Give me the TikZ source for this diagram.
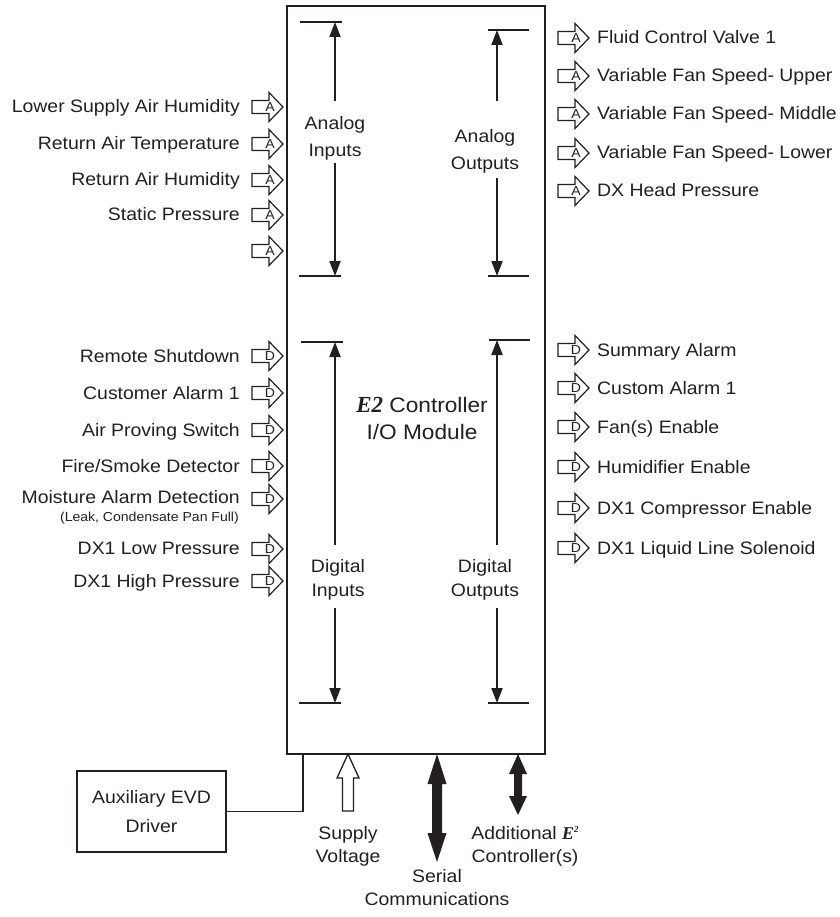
\documentclass[tikz,border=0pt]{standalone}
\usepackage{fontspec}
\setmainfont{Liberation Sans}[FakeStretch=1.08]
\newfontfamily\eserif{Liberation Serif}
\usetikzlibrary{arrows.meta}
\definecolor{ink}{HTML}{231F20}
\newcommand\lblfont{\fontsize{18}{22}\selectfont}
\newcommand\Ebi{{\eserif\bfseries\itshape E}}
\tikzset{
  every node/.style={text=ink},
  lbl/.style={inner sep=0pt, text height=12pt, text depth=0pt, font=\lblfont},
  llbl/.style={lbl, anchor=east},
  rlbl/.style={lbl, anchor=west},
  inlbl/.style={inner sep=0pt, align=center},
  bar/.style={line width=2pt, draw=ink},
  ioline/.style={line width=2pt, draw=ink, -{Triangle[length=15pt,width=11pt]}},
  iconline/.style={line width=1.2pt, draw=ink, fill=white},
  iconletter/.style={inner sep=0pt, font=\fontsize{13}{13}\selectfont},
  ioarrow/.pic={
    \draw[iconline] (-15,-6.5) -- (2,-6.5) -- (2,-14.5) -- (16,0) -- (2,14.5) -- (2,6.5) -- (-15,6.5) -- cycle;
    \node[iconletter] at (3,0.5) {\tikzpictext};
  },
}
\begin{document}
\begin{tikzpicture}[x=1pt,y=-1pt]
\useasboundingbox (0,0) rectangle (839,917);

% main module box
\node[draw=ink, line width=2.4pt, minimum width=258pt, minimum height=748pt, inner sep=0pt] (main) at (416,380) {};

% inner labels
\node[inlbl, font=\fontsize{18}{27}\selectfont] (ai) at (335,138.5) {Analog\\Inputs};
\node[inlbl, font=\fontsize{18}{27}\selectfont] (ao) at (485,151.5) {Analog\\Outputs};
\node[inlbl, font=\fontsize{18}{24}\selectfont] (di) at (338,580) {Digital\\Inputs};
\node[inlbl, font=\fontsize{18}{24}\selectfont] (do) at (485,580) {Digital\\Outputs};
\node[inlbl, font=\fontsize{21}{27}\selectfont] (e2) at (422,418) {{\fontsize{23}{27}\selectfont\Ebi{\eserif\bfseries\itshape 2}} Controller\\I/O Module};

% inner range arrows
\draw[bar] (300,22) -- (342,22);
\draw[ioline] (335,101) -- (335,22);
\draw[ioline] (335,163) -- (335,276);
\draw[bar] (299,276) -- (341,276);

\draw[bar] (488,30) -- (529,30);
\draw[ioline] (497,101) -- (497,30);
\draw[ioline] (497,178) -- (497,276);
\draw[bar] (488,276) -- (529,276);

\draw[bar] (301,342) -- (343,342);
\draw[ioline] (335,545) -- (335,342);
\draw[ioline] (335,608) -- (335,703);
\draw[bar] (299,703) -- (341,703);

\draw[bar] (489,340) -- (530,340);
\draw[ioline] (497,545) -- (497,340);
\draw[ioline] (497,608) -- (497,703);
\draw[bar] (488,703) -- (529,703);

% left analog inputs
\node[llbl] (la1) at (240,107) {Lower Supply Air Humidity};
\node[llbl] (la2) at (240,144) {Return Air Temperature};
\node[llbl] (la3) at (240,180) {Return Air Humidity};
\node[llbl] (la4) at (240,215) {Static Pressure};
\pic[pic text=A] (ia1) at (267,107) {ioarrow};
\pic[pic text=A] (ia2) at (267,144) {ioarrow};
\pic[pic text=A] (ia3) at (267,180) {ioarrow};
\pic[pic text=A] (ia4) at (267,215) {ioarrow};
\pic[pic text=A] (ia5) at (267,251) {ioarrow};

% right analog outputs
\node[rlbl] (ra1) at (597,38) {Fluid Control Valve 1};
\node[rlbl] (ra2) at (597,76) {Variable Fan Speed- Upper};
\node[rlbl] (ra3) at (597,114) {Variable Fan Speed- Middle};
\node[rlbl] (ra4) at (597,153) {Variable Fan Speed- Lower};
\node[rlbl] (ra5) at (597,191) {DX Head Pressure};
\pic[pic text=A] (oa1) at (573,38) {ioarrow};
\pic[pic text=A] (oa2) at (573,76) {ioarrow};
\pic[pic text=A] (oa3) at (573,114) {ioarrow};
\pic[pic text=A] (oa4) at (573,153) {ioarrow};
\pic[pic text=A] (oa5) at (573,191) {ioarrow};

% left digital inputs
\node[llbl] (ld1) at (240,356) {Remote Shutdown};
\node[llbl] (ld2) at (240,393) {Customer Alarm 1};
\node[llbl] (ld3) at (240,430) {Air Proving Switch};
\node[llbl] (ld4) at (240,466) {Fire/Smoke Detector};
\node[llbl] (ld5) at (240,497) {Moisture Alarm Detection};
\node[inlbl, anchor=east, font=\fontsize{13}{13}\selectfont] (ld5b) at (239,518) {(Leak, Condensate Pan Full)};
\node[llbl] (ld6) at (240,548) {DX1 Low Pressure};
\node[llbl] (ld7) at (240,581) {DX1 High Pressure};
\pic[pic text=D] (id1) at (267,356) {ioarrow};
\pic[pic text=D] (id2) at (267,393) {ioarrow};
\pic[pic text=D] (id3) at (267,430) {ioarrow};
\pic[pic text=D] (id4) at (267,466) {ioarrow};
\pic[pic text=D] (id5) at (267,499) {ioarrow};
\pic[pic text=D] (id6) at (267,549) {ioarrow};
\pic[pic text=D] (id7) at (267,581) {ioarrow};

% right digital outputs
\node[rlbl] (rd1) at (597,350) {Summary Alarm};
\node[rlbl] (rd2) at (597,388) {Custom Alarm 1};
\node[rlbl] (rd3) at (597,427) {Fan(s) Enable};
\node[rlbl] (rd4) at (597,467) {Humidifier Enable};
\node[rlbl] (rd5) at (597,508) {DX1 Compressor Enable};
\node[rlbl] (rd6) at (597,548) {DX1 Liquid Line Solenoid};
\pic[pic text=D] (od1) at (573,350) {ioarrow};
\pic[pic text=D] (od2) at (573,388) {ioarrow};
\pic[pic text=D] (od3) at (573,427) {ioarrow};
\pic[pic text=D] (od4) at (573,467) {ioarrow};
\pic[pic text=D] (od5) at (573,508) {ioarrow};
\pic[pic text=D] (od6) at (573,548) {ioarrow};

% auxiliary EVD driver
\node[draw=ink, line width=1.8pt, minimum width=149pt, minimum height=81pt, inner sep=0pt, align=center, font=\fontsize{18}{29}\selectfont] (aux) at (151.5,811.5) {Auxiliary EVD\\Driver};
\coordinate (auxin) at (303,754);
\draw[line width=1.8pt, draw=ink] (aux.east) -| (auxin);

% supply voltage (hollow arrow)
\draw[line width=1.3pt, draw=ink, fill=white] (348,754) -- (359,778) -- (353.5,778) -- (353.5,811) -- (342.5,811) -- (342.5,778) -- (337,778) -- cycle;
\node[inlbl, font=\fontsize{18}{23}\selectfont] (sv) at (348,846) {Supply\\Voltage};

% serial communications (double arrow)
\fill[ink] (437,754) -- (446.5,784) -- (442,784) -- (442,833) -- (446.5,833) -- (437,862) -- (427.5,833) -- (432,833) -- (432,784) -- (427.5,784) -- cycle;
\node[inlbl, font=\fontsize{18}{23}\selectfont] (sc) at (437,888) {Serial\\Communications};

% additional controllers (double arrow)
\fill[ink] (518,754) -- (527,774) -- (522,774) -- (522,796) -- (527,796) -- (518,815) -- (509,796) -- (514,796) -- (514,774) -- (509,774) -- cycle;
\node[inlbl, font=\fontsize{18}{23}\selectfont] (ac) at (525,846) {Additional \Ebi\raisebox{0.7ex}{\eserif\bfseries\itshape\fontsize{9}{9}\selectfont 2}\\Controller(s)};
\end{tikzpicture}
\end{document}
